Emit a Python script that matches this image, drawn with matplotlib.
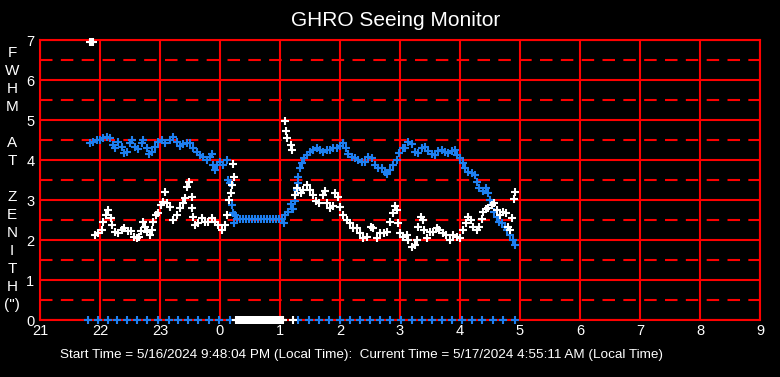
import matplotlib
matplotlib.use("Agg")
import matplotlib.pyplot as plt

plt.rcParams['font.family'] = ['Liberation Sans', 'DejaVu Sans']

title = "GHRO Seeing Monitor"
footer = "Start Time = 5/16/2024 9:48:04 PM (Local Time):  Current Time = 5/17/2024 4:55:11 AM (Local Time)"
ylabel_chars = ["F", "W", "H", "M", "", "A", "T", "", "Z", "E", "N", "I", "T", "H", "(\")"]
xtick_vals = [21, 22, 23, 24, 25, 26, 27, 28, 29, 30, 31, 32, 33]
xtick_labels = ["21", "22", "23", "0", "1", "2", "3", "4", "5", "6", "7", "8", "9"]
ytick_vals = [0, 1, 2, 3, 4, 5, 6, 7]
START_HOUR = 21  # times below are minutes after 21:00

# Blue series, before the gap
blue_min = [50, 53.3, 56.7, 60, 63.3, 66.7, 70, 73.3, 75, 78.3, 81.7, 84.3, 86.7, 90, 91.7, 95,
            98.3, 101.7, 103.3, 106.7, 109, 111.7, 115, 118.3, 121.7, 125, 130, 133.3, 136.7, 140,
            143.3, 146.7, 150, 153.3, 156.7, 160, 163.3, 166.7, 170, 171.7, 173.3, 175, 176.7, 180,
            183.3, 186.7, 188.3, 190, 191.7, 192.7, 195, 194.3]
blue_val = [4.42, 4.46, 4.50, 4.50, 4.56, 4.58, 4.54, 4.38, 4.29, 4.46, 4.33, 4.17, 4.21, 4.42, 4.50, 4.33,
            4.28, 4.42, 4.50, 4.29, 4.14, 4.21, 4.33, 4.46, 4.50, 4.42, 4.50, 4.58, 4.46, 4.36,
            4.39, 4.42, 4.42, 4.31, 4.21, 4.13, 4.08, 4.00, 4.08, 4.14, 3.88, 3.75, 3.88, 3.96,
            3.88, 4.00, 3.50, 3.42, 2.88, 2.67, 2.63, 2.42]

# Blue series, flat section during the gap
blue_gap_min = [197, 200, 203, 206, 209, 212, 215, 218, 221, 224, 227, 230, 233, 236, 239, 242]
blue_gap_val = [2.52, 2.52, 2.52, 2.52, 2.52, 2.52, 2.52, 2.52, 2.52, 2.52, 2.52, 2.52, 2.52, 2.52, 2.52, 2.52]

# Blue series, after the gap
blue2_min = [244, 245, 248.3, 250.7, 251.7, 253.3, 255, 256.7, 257.5, 258.3, 260, 261.7, 264, 266.7, 270,
             273.3, 276.7, 280, 283.3, 286.7, 290, 293.3, 296.7, 300, 303.3, 306, 308.3, 311.7, 315,
             318.3, 321.7, 325, 328.3, 331.7, 335, 338.3, 341.7, 345, 347.3, 350, 353.3, 356.7, 359.3,
             362.7, 365, 368.3, 371.7, 375, 378.3, 381.7, 385, 388.3, 391.7, 395, 398.3, 401.7, 405,
             408.3, 411.7, 415, 417.3, 420, 422.7, 425, 428.3, 431.7, 435, 437.3, 439.3, 442.7, 446,
             448.3, 450, 451.7, 454, 456.7, 459.3, 461.7, 465, 467.3, 470, 472.7, 475]
blue2_val = [2.42, 2.63, 2.71, 2.89, 2.78, 2.77, 2.98, 3.25, 3.42, 3.58, 3.79, 3.92, 4.04, 4.13, 4.21,
             4.25, 4.29, 4.25, 4.19, 4.25, 4.25, 4.29, 4.29, 4.36, 4.42, 4.31, 4.14, 4.08, 4.06,
             4.00, 3.94, 3.96, 4.08, 4.04, 3.88, 3.79, 3.81, 3.71, 3.64, 3.75, 3.88, 4.00, 4.17,
             4.29, 4.29, 4.46, 4.40, 4.21, 4.17, 4.29, 4.33, 4.23, 4.15, 4.13, 4.23, 4.25, 4.21,
             4.17, 4.23, 4.25, 4.13, 4.04, 3.92, 3.79, 3.71, 3.68, 3.63, 3.46, 3.29, 3.23, 3.29,
             3.17, 3.00, 2.88, 2.71, 2.57, 2.46, 2.42, 2.33, 2.25, 2.13, 2.00, 1.88]

# White series, before the gap
white_min = [50.5, 51.5, 52.5, 55, 58.3, 61.7, 63.3, 65.7, 68.3, 71, 72.3, 75, 78.3, 81.7, 84.3, 87.7,
             91, 94.3, 96.7, 99, 101, 103.3, 105, 106.7, 110, 111.7, 113.3, 115.7, 118.3, 121, 123.3,
             125, 126.7, 130, 133.3, 136.7, 140, 143.3, 145, 146.7, 149, 151.7, 152.3, 153.3, 155,
             158.3, 161.7, 165, 168.3, 171.7, 175, 178.3, 182.3, 185, 186.7, 189, 191, 192.3, 194.3,
             193.3]
white_val = [6.95, 6.95, 6.95, 2.13, 2.17, 2.25, 2.46, 2.63, 2.75, 2.54, 2.38, 2.21, 2.17, 2.25, 2.29, 2.23,
             2.23, 2.08, 2.04, 2.08, 2.23, 2.46, 2.33, 2.21, 2.13, 2.25, 2.46, 2.63, 2.67, 2.88, 2.96,
             3.21, 2.92, 2.83, 2.50, 2.63, 2.79, 2.92, 3.04, 3.33, 3.46, 3.08, 2.81, 2.58, 2.38,
             2.42, 2.54, 2.46, 2.46, 2.54, 2.46, 2.38, 2.25, 2.38, 2.63, 3.00, 3.17, 3.38, 3.58,
             3.89]

# White series, zero readings during the gap
white_gap_min = [196, 198, 200, 202, 204, 206, 208, 210, 212, 214, 216, 218, 220, 222, 224, 226,
                 228, 230, 232, 234, 236, 238, 240, 242, 243, 253]
white_gap_val = [0, 0, 0, 0, 0, 0, 0, 0, 0, 0, 0, 0, 0, 0, 0, 0,
                 0, 0, 0, 0, 0, 0, 0, 0, 0, 0]

# White series, after the gap
white2_min = [245, 245.5, 247.3, 250.7, 251.7, 255, 257.3, 260.7, 263.3, 266.7, 270, 273.3, 276, 279.3,
              282.7, 285, 286.7, 290, 292.7, 295, 298.3, 300, 303.3, 306.7, 310, 313.3, 317.3, 320,
              323.3, 327.3, 330.7, 333.3, 336.7, 340, 344, 347.3, 350, 352.7, 355, 356.7, 358.3, 360,
              363.3, 366.7, 368.3, 371.7, 375, 376.7, 378.3, 380.7, 382.7, 384, 386.7, 390, 393.3,
              396.7, 399.3, 402.7, 406, 410, 413.3, 416.7, 420, 423.3, 426, 428.3, 430.7, 433.3, 436.7,
              439.3, 441.7, 443.3, 446, 448.3, 451.7, 454, 456.7, 460, 462.7, 466, 468.3, 470, 471.7,
              474.3, 475.3]
white2_val = [4.97, 4.72, 4.56, 4.38, 4.25, 3.13, 3.29, 3.17, 3.25, 3.38, 3.25, 3.13, 2.98, 2.92,
              3.13, 3.23, 2.92, 2.79, 2.86, 3.17, 3.08, 2.83, 2.63, 2.50, 2.42, 2.29, 2.29, 2.17,
              2.04, 2.08, 2.33, 2.29, 2.04, 2.17, 2.17, 2.21, 2.46, 2.67, 2.86, 2.75, 2.42, 2.17,
              2.08, 2.13, 2.00, 1.83, 1.88, 2.00, 2.33, 2.57, 2.50, 2.25, 2.04, 2.21, 2.21,
              2.29, 2.25, 2.17, 2.13, 2.00, 2.13, 2.08, 2.04, 2.25, 2.42, 2.57, 2.50, 2.33, 2.25,
              2.33, 2.52, 2.71, 2.77, 2.79, 2.88, 2.92, 2.75, 2.63, 2.71, 2.67, 2.33, 2.25, 2.54,
              3.02, 3.19]

# Bottom status markers (at zero)
base_min = [48.3, 58.3, 68.3, 77.3, 87.3, 97.3, 107.3, 118.3, 129.3, 138.3, 148.3, 158.3, 169.3,
            179.3, 190, 258.3, 269.3, 279.3, 289.3, 300, 310, 320, 330, 340, 350, 360.7, 371.7,
            381.7, 391.7, 402, 412, 422, 432, 442, 452.7, 463, 475]
base_val = [0] * len(base_min)


def hrs(mins):
    return [START_HOUR + m / 60 for m in mins]


BLUE = '#1e7ff0'
RED = '#ff0000'

fig = plt.figure(figsize=(7.8, 3.77), dpi=100, facecolor='black')
ax = fig.add_axes([40/780, 57/377, 720/780, 280/377], facecolor='black')
ax.set_xlim(21, 33)
ax.set_ylim(0, 7)

for v in xtick_vals:
    ax.axvline(v, color=RED, lw=1.5, zorder=1)
for v in ytick_vals:
    ax.axhline(v, color=RED, lw=1.5, zorder=1)
for v in [0.5, 1.5, 2.5, 3.5, 4.5, 5.5, 6.5]:
    ax.axhline(v, color=RED, lw=1.5, dashes=(6, 4), zorder=1)

mk = dict(marker='+', linestyle='none', markersize=5.5, markeredgewidth=1.5, clip_on=False, zorder=3)
ax.plot(hrs(blue_min), blue_val, color=BLUE, **mk)
ax.plot(hrs(blue_gap_min), blue_gap_val, color=BLUE, **mk)
ax.plot(hrs(blue2_min), blue2_val, color=BLUE, **mk)
ax.plot(hrs(base_min), base_val, color=BLUE, **mk)
ax.plot(hrs(white_min), white_val, color='white', **mk)
ax.plot(hrs(white_gap_min), white_gap_val, color='white', **mk)
ax.plot(hrs(white2_min), white2_val, color='white', **mk)

for s in ax.spines.values():
    s.set_color(RED)
    s.set_linewidth(1.5)

ax.set_xticks(xtick_vals)
ax.set_xticklabels(xtick_labels)
ax.set_yticks(ytick_vals)
ax.tick_params(colors='white', labelsize=10.5, length=0)
ax.tick_params(axis='x', pad=3)
ax.tick_params(axis='y', pad=4)

fig.text(396/780, 1 - 21/377, title, color='white', fontsize=15, ha='center', va='center')
fig.text(362/780, 1 - 355/377, footer, color='white', fontsize=9.7, ha='center', va='center')

ys = [53, 71, 89, 107, 125, 143, 161, 179, 197, 215, 233, 251, 269, 287, 305]
for ch, yp in zip(ylabel_chars, ys):
    if ch:
        fig.text(12/780, 1 - yp/377, ch, color='white', fontsize=11, ha='center', va='center')

fig.savefig('out.png', dpi=100, facecolor='black')
